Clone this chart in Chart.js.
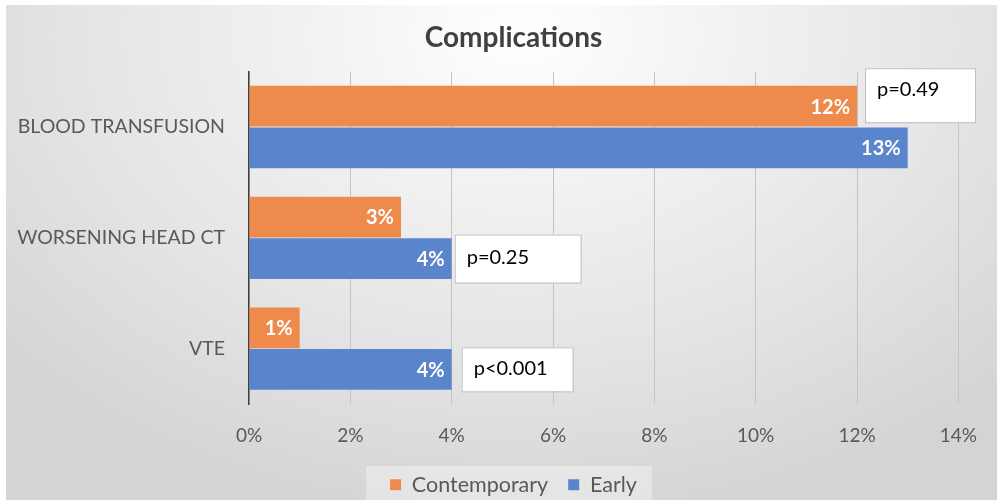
<!DOCTYPE html>
<html>
<head>
<meta charset="utf-8">
<script src="https://cdn.jsdelivr.net/npm/chart.js@4.4.1/dist/chart.umd.min.js"></script>
<style>
  html, body { margin: 0; padding: 0; }
  body { width: 997px; height: 500px; overflow: hidden; background: #fff; }
  #wrap {
    position: absolute; left: 6px; top: 5px; width: 991px; height: 495px;
    background: radial-gradient(ellipse 70% 100% at 52% 6%, #ffffff 0%, #f2f2f2 30%, #e4e4e4 65%, #d4d4d4 100%);
  }
  canvas { position: absolute; left: -6px; top: -5px; }
</style>
</head>
<body>
<div id="wrap"><canvas id="chart" width="997" height="500"></canvas></div>
<script>
const categories = ["BLOOD TRANSFUSION", "WORSENING HEAD CT", "VTE"];
const contemporary = [12, 3, 1];
const early = [13, 4, 4];
const pValues = ["p=0.49", "p=0.25", "p<0.001"];
const xTicks = [0, 2, 4, 6, 8, 10, 12, 14];

const FONT = "Lato, 'Open Sans', sans-serif";

// let the y labels run into the left padding (Chart.js clips them to the scale box)
const widenY = {
  id: "widenY",
  afterLayout(chart) {
    chart.scales.y.left = 0;
  }
};

// faint lighter box behind the legend
const legendBg = {
  id: "legendBg",
  beforeDraw(chart) {
    const hb = chart.legend.legendHitBoxes;
    if (!hb || !hb.length) return;
    const first = hb[0], last = hb[hb.length - 1];
    const ctx = chart.ctx;
    ctx.save();
    ctx.fillStyle = "rgba(255,255,255,0.35)";
    ctx.fillRect(first.left - 24, first.top - 8, last.left + last.width - first.left + 39, 60);
    ctx.restore();
  }
};

// white bold value labels at the end of each bar
const barLabels = {
  id: "barLabels",
  afterDatasetsDraw(chart) {
    const ctx = chart.ctx;
    ctx.save();
    ctx.font = "bold 20px " + FONT;
    ctx.fillStyle = "#ffffff";
    ctx.textAlign = "right";
    ctx.textBaseline = "middle";
    chart.data.datasets.forEach((ds, di) => {
      chart.getDatasetMeta(di).data.forEach((bar, i) => {
        ctx.fillText(ds.data[i] + "%", bar.x - 7, bar.y + 1);
      });
    });
    ctx.restore();
  }
};

// p-value boxes next to the bars
const pBoxes = {
  id: "pBoxes",
  afterDatasetsDraw(chart) {
    const ctx = chart.ctx;
    const orange = chart.getDatasetMeta(0).data;
    const blue = chart.getDatasetMeta(1).data;
    // [left, top, width, height] from bar geometry
    const boxes = [
      [orange[0].x + 8, orange[0].y - 38, 110, 54],
      [blue[1].x + 3, blue[1].y - 24, 126, 48],
      [blue[2].x + 10, blue[2].y - 22, 111, 44]
    ];
    ctx.save();
    ctx.font = "20px " + FONT;
    ctx.textBaseline = "middle";
    ctx.textAlign = "left";
    boxes.forEach((b, i) => {
      ctx.fillStyle = "#ffffff";
      ctx.fillRect(b[0], b[1], b[2], b[3]);
      ctx.strokeStyle = "#bfbfbf";
      ctx.lineWidth = 1;
      ctx.strokeRect(b[0] + 0.5, b[1] + 0.5, b[2], b[3]);
      ctx.fillStyle = "#000000";
      const ty = i === 0 ? b[1] + 21 : b[1] + b[3] / 2 - 1;
      ctx.fillText(pValues[i], b[0] + 12, ty);
    });
    ctx.restore();
  }
};

new Chart(document.getElementById("chart"), {
  type: "bar",
  data: {
    labels: categories,
    datasets: [
      {
        label: "Contemporary",
        data: contemporary,
        backgroundColor: "#ee8a4b",
        categoryPercentage: 0.75,
        barPercentage: 0.98
      },
      {
        label: "Early",
        data: early,
        backgroundColor: "#5a84cc",
        categoryPercentage: 0.75,
        barPercentage: 0.98
      }
    ]
  },
  options: {
    indexAxis: "y",
    responsive: false,
    animation: false,
    layout: { padding: { left: 64, right: 34, top: 0, bottom: 0 } },
    plugins: {
      title: {
        display: true,
        text: "Complications",
        color: "#404040",
        font: { family: FONT, size: 28, weight: "bold" },
        padding: { top: 21, bottom: 17 }
      },
      legend: {
        position: "bottom",
        maxHeight: 46,
        labels: {
          color: "#595959",
          font: { family: FONT, size: 21.5 },
          boxWidth: 11,
          boxHeight: 11,
          padding: 20
        }
      },
      tooltip: { enabled: false }
    },
    scales: {
      x: {
        min: 0,
        max: 14,
        afterBuildTicks(scale) {
          scale.ticks = xTicks.map(v => ({ value: v }));
        },
        afterFit(scale) { scale.height = 50; },
        ticks: {
          color: "#595959",
          font: { family: FONT, size: 19 },
          padding: 20,
          callback: v => v + "%"
        },
        grid: { color: "#c4c4c4", drawTicks: false },
        border: { display: false }
      },
      y: {
        afterFit(scale) { scale.width = 185; },
        ticks: {
          color: "#595959",
          font: { family: FONT, size: 19.5 },
          padding: 16
        },
        grid: { display: false },
        border: { display: true, color: "#404040", width: 1.5 }
      }
    }
  },
  plugins: [widenY, legendBg, barLabels, pBoxes]
});
</script>
</body>
</html>
